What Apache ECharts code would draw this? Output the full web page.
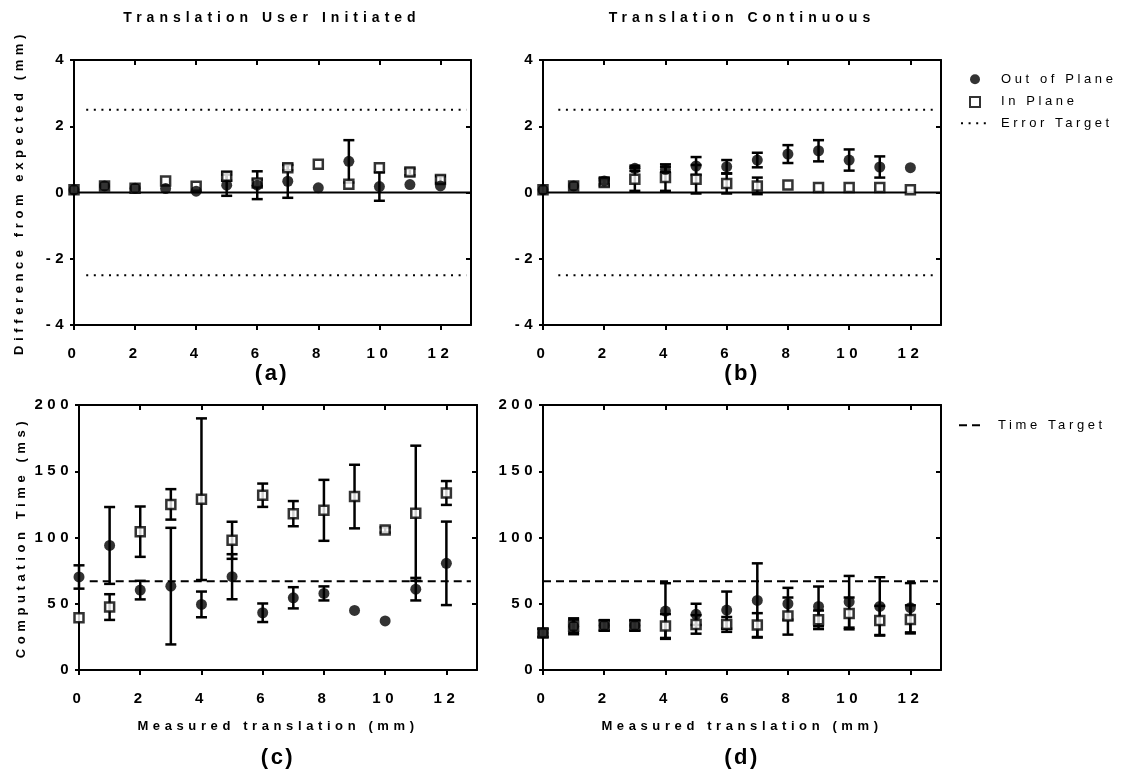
<!DOCTYPE html>
<html><head><meta charset="utf-8">
<style>html,body{margin:0;padding:0;background:#fff}#c{width:1121px;height:776px}</style>
<script src="https://cdn.jsdelivr.net/npm/echarts@6/dist/echarts.min.js"></script>
</head><body><div id="c"></div>
<script>
// ---- data ----
const xVals = [0,1,2,3,4,5,6,7,8,9,10,11,12];
const xTicks = [0,2,4,6,8,10,12];
const diffTicks = [-4,-2,0,2,4];
const timeTicks = [0,50,100,150,200];

const aOutMean = [0.08,0.2,0.13,0.12,0.04,0.22,0.22,0.34,0.14,0.94,0.18,0.24,0.2];
const aOutErr  = [0,0,0,0,0,0.32,0.42,0.5,0,0.64,0.43,0,0];
const aInMean  = [0.08,0.2,0.13,0.35,0.19,0.49,0.29,0.75,0.85,0.25,0.75,0.62,0.39];
const aInErr   = [0,0,0,0,0,0.13,0.1,0.08,0,0,0,0.1,0.1];

const bOutMean = [0.08,0.2,0.35,0.73,0.7,0.8,0.78,0.98,1.16,1.26,0.98,0.77,0.75];
const bOutErr  = [0,0,0.1,0.08,0.08,0.27,0.2,0.22,0.27,0.32,0.32,0.32,0];
const bInMean  = [0.08,0.2,0.3,0.4,0.45,0.4,0.27,0.2,0.23,0.15,0.15,0.15,0.08];
const bInErr   = [0,0,0.1,0.35,0.4,0.43,0.3,0.25,0,0,0,0,0];

const cOutMean = [70.2,94,60.3,63.3,49.5,70.4,43.2,54.5,57.8,45,37,61,80.5];
const cOutErr  = [8.8,29,7,44,9.7,17,7,8,5.3,0,0,8.5,31.5];
const cInMean  = [39.4,47.5,104.4,125,128.9,97.9,131.9,118,120.5,130.9,105.7,118.3,133.6];
const cInErr   = [0,9.7,19,11.5,61,14,8.8,9.5,23,24,2,51,9];

const dOutMean = [28,33,33.6,33.6,44.5,42,45.2,52.5,50,48,51.5,48,47];
const dOutErr  = [3,6,4,4,21,8,14,28,12,15,19.5,22,18.6];
const dInMean  = [28,33,33.6,33.6,33.2,34.4,34.4,33.9,40.7,37.9,42.7,37.4,38.2];
const dInErr   = [3,5,4,4,9,7,5.6,9,14,7,12,11,10.6];

const errorTarget = 2.5;
const timeTarget = 67;
const errLineXA = [0.4,12.85];
const errLineXB = [0.5,12.85];
const timeLineXC = [0.35,12.8];
const timeLineXD = [0,12.9];

// ---- letter spacing (GraphPad-like wide text) ----
function spacingFor(size,bold){
  if(size>=20) return 2.5;
  if(size>=15) return 4.5;
  if(size>=14) return 5;
  if(bold) return 4.6;
  return 3.6;
}
(function(){
  const P = CanvasRenderingContext2D.prototype;
  if(!('letterSpacing' in P)) return;
  const d = Object.getOwnPropertyDescriptor(P,'font');
  Object.defineProperty(P,'font',{configurable:true,
    get(){return d.get.call(this);},
    set(v){d.set.call(this,v);
      const m=/([\d.]+)px/.exec(v); let s=0;
      if(m){s=spacingFor(parseFloat(m[1]),/bold|[6-9]00/.test(v));}
      try{this.letterSpacing=s+'px';}catch(e){}
    }});
})();

// ---- layout ----
const grids = [
  {left:74, top:60, width:397, height:265},
  {left:543, top:60, width:398, height:265},
  {left:79, top:405, width:398, height:265},
  {left:543, top:405, width:398, height:265}
];
const black = '#000';
const FF = 'Liberation Sans, Arial, sans-serif';

const xAxes = [], yAxes = [];
grids.forEach((g,gi)=>{
  const bottomRow = gi>=2;
  xAxes.push({gridIndex:gi,type:'value',min:0,max:13,interval:2,position:'bottom',
    axisLine:{onZero:false,lineStyle:{color:black,width:2}},
    axisTick:{length:5,customValues:xTicks,lineStyle:{color:black,width:2}},
    axisLabel:{customValues:xTicks,margin:19,fontSize:15,fontWeight:'bold',color:black,fontFamily:FF},
    splitLine:{show:false},
    name: bottomRow ? 'Measured translation (mm)' : '',
    nameLocation:'middle',nameGap:48,
    nameTextStyle:{fontSize:13,fontWeight:'bold',color:black,fontFamily:FF}});
  xAxes.push({gridIndex:gi,type:'value',min:0,max:13,interval:2,position:'top',
    axisLine:{onZero:false,lineStyle:{color:black,width:2}},
    axisTick:{inside:true,length:5,customValues:xTicks,lineStyle:{color:black,width:2}},
    axisLabel:{show:false},splitLine:{show:false}});
  const ticks = bottomRow ? timeTicks : diffTicks;
  const yMin = ticks[0], yMax = ticks[ticks.length-1], yInt = ticks[1]-ticks[0];
  const yName = gi===0 ? 'Difference from expected (mm)' : (gi===2 ? 'Computation Time (ms)' : '');
  yAxes.push({gridIndex:gi,type:'value',min:yMin,max:yMax,interval:yInt,position:'left',
    axisLine:{show:true,onZero:false,lineStyle:{color:black,width:2}},
    axisTick:{show:true,length:4,lineStyle:{color:black,width:2}},
    axisLabel:{margin:6,fontSize:15,fontWeight:'bold',color:black,fontFamily:FF},
    splitLine:{show:false},
    name:yName,nameLocation:'middle',nameGap: gi===0?46:48,
    nameTextStyle:{fontSize:13,fontWeight:'bold',color:black,fontFamily:FF}});
  yAxes.push({gridIndex:gi,type:'value',min:yMin,max:yMax,interval:yInt,position:'right',
    axisLine:{show:true,onZero:false,lineStyle:{color:black,width:2}},
    axisTick:{show:true,inside:true,length:5,lineStyle:{color:black,width:2}},
    axisLabel:{show:false},splitLine:{show:false}});
});

function errBars(gi, means, errs){
  return {type:'custom', xAxisIndex:gi*2, yAxisIndex:gi*2, z:2, silent:true,
    data: xVals.map((x,i)=>[x,means[i],errs[i]]),
    renderItem(params,api){
      const x=api.value(0), m=api.value(1), e=api.value(2);
      if(!e) return {type:'group',children:[]};
      const t=api.coord([x,m+e]), b=api.coord([x,m-e]);
      const hw=5.5, st={stroke:black,lineWidth:2.5};
      return {type:'group',children:[
        {type:'line',shape:{x1:t[0],y1:t[1],x2:b[0],y2:b[1]},style:st},
        {type:'line',shape:{x1:t[0]-hw,y1:t[1],x2:t[0]+hw,y2:t[1]},style:st},
        {type:'line',shape:{x1:b[0]-hw,y1:b[1],x2:b[0]+hw,y2:b[1]},style:st}
      ]};
    }};
}
function squares(gi, means){
  return {type:'scatter',name:'In Plane',xAxisIndex:gi*2,yAxisIndex:gi*2,z:3,silent:true,
    symbol:'rect',symbolSize:9,symbolKeepAspect:true,itemStyle:{color:'#fff',borderColor:black,borderWidth:2.5},
    emphasis:{disabled:true},data:xVals.map((x,i)=>[x,means[i]])};
}
function circles(gi, means){
  return {type:'scatter',name:'Out of Plane',xAxisIndex:gi*2,yAxisIndex:gi*2,z:4,silent:true,
    symbol:'circle',symbolSize:11,itemStyle:{color:black},
    emphasis:{disabled:true},data:xVals.map((x,i)=>[x,means[i]])};
}
function hLine(gi, name, xs, y, type){
  return {type:'line',name:name,xAxisIndex:gi*2,yAxisIndex:gi*2,z:1,silent:true,
    symbol:'none',lineStyle:{color:black,width:2,type:type},itemStyle:{color:black,opacity:0},
    emphasis:{disabled:true},data:[[xs[0],y],[xs[1],y]]};
}

const series = [
  hLine(0,'Error Target',errLineXA,errorTarget,[2,5.6]),
  hLine(0,'Error Target',errLineXA,-errorTarget,[2,5.6]),
  hLine(0,undefined,[0,13],0,'solid'),
  errBars(0,aInMean,aInErr), errBars(0,aOutMean,aOutErr),
  squares(0,aInMean), circles(0,aOutMean),

  hLine(1,'Error Target',errLineXB,errorTarget,[2,5.6]),
  hLine(1,'Error Target',errLineXB,-errorTarget,[2,5.6]),
  hLine(1,undefined,[0,13],0,'solid'),
  errBars(1,bInMean,bInErr), errBars(1,bOutMean,bOutErr),
  squares(1,bInMean), circles(1,bOutMean),

  hLine(2,'Time Target',timeLineXC,timeTarget,[8,5]),
  errBars(2,cInMean,cInErr), errBars(2,cOutMean,cOutErr),
  squares(2,cInMean), circles(2,cOutMean),

  hLine(3,'Time Target',timeLineXD,timeTarget,[8,5]),
  errBars(3,dInMean,dInErr), errBars(3,dOutMean,dOutErr),
  squares(3,dInMean), circles(3,dOutMean)
];

function ttl(text,x,top,size){
  return {text:text,left:x,top:top,textAlign:'center',padding:0,
    textStyle:{fontSize:size,fontWeight:'bold',color:black,fontFamily:FF}};
}
function lg(left,top,w,pad,data){
  return {orient:'vertical',left:left,top:top,itemWidth:w,itemHeight:10,itemGap:6,selectedMode:false,
    textStyle:{fontSize:13,color:black,lineHeight:16,padding:[0,0,0,pad],fontFamily:FF},
    data:data};
}

const option = {
  animation:false,
  backgroundColor:'#fff',
  textStyle:{fontFamily:FF},
  title:[
    ttl('Translation User Initiated',272,9,14),
    ttl('Translation Continuous',742,9,14),
    ttl('(a)',272,362,22),
    ttl('(b)',742,362,22),
    ttl('(c)',278,746,22),
    ttl('(d)',742,746,22)
  ],
  legend:[
    lg(964,66,10,16,['Out of Plane','In Plane']),
    lg(955,110,25,10,[{name:'Error Target',itemStyle:{opacity:0}}]),
    lg(953,412,25,9,[{name:'Time Target',itemStyle:{opacity:0}}])
  ],
  grid:grids,
  xAxis:xAxes,
  yAxis:yAxes,
  series:series
};
const chart = echarts.init(document.getElementById('c'),null,{renderer:'canvas'});
chart.setOption(option);
</script></body></html>
